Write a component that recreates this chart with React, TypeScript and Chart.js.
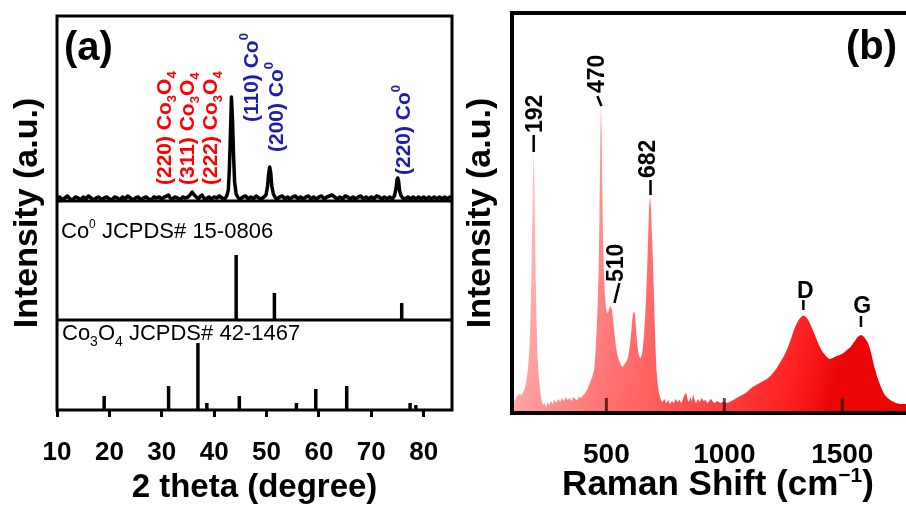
import React, { useEffect, useRef } from 'react';
import { Chart, registerables } from 'chart.js';
Chart.register(...registerables);

const FONT = "'Liberation Sans', Arial, Helvetica, sans-serif";

// ---------- (a) XRD ----------
const xrdAngle = [
  10, 10.5, 11, 11.5, 12, 12.5, 13, 13.5, 14, 14.5, 15, 15.5, 16, 16.5, 17, 17.5, 18, 18.5, 19, 19.5,
  20, 20.5, 21, 21.5, 22, 22.5, 23, 23.5, 24, 24.5, 25, 25.5, 26, 26.5, 27, 27.5, 28, 28.5, 29, 29.5,
  30, 30.5, 31, 31.3, 31.6, 32, 32.5, 33, 33.5, 34, 34.5, 35, 35.4, 35.8, 36.2, 36.6, 37, 37.4, 37.7, 38,
  38.5, 39, 39.5, 40, 40.5, 41, 41.5, 42, 42.4, 42.7, 42.9, 43.1, 43.3, 43.5, 43.7, 43.9, 44.2, 44.6, 45, 45.5,
  46, 46.5, 47, 47.5, 48, 48.5, 49, 49.5, 49.9, 50.2, 50.4, 50.6, 50.8, 51.0, 51.3, 51.7, 52, 52.5, 53, 53.5,
  54, 54.5, 55, 55.5, 56, 56.5, 57, 57.5, 58, 58.5, 59, 59.5, 60, 60.5, 61, 61.5, 62, 62.5, 63, 63.5,
  64, 64.5, 65, 65.5, 66, 66.5, 67, 67.5, 68, 68.5, 69, 69.5, 70, 70.5, 71, 71.5, 72, 72.5, 73, 73.5,
  74, 74.4, 74.7, 74.9, 75.05, 75.2, 75.4, 75.7, 76, 76.5, 77, 77.5, 78, 78.5, 79, 79.5, 80, 80.5, 81, 81.5,
  82, 82.5, 83, 83.5, 84, 84.5, 85, 85.4,
];
const xrdIntensity = [
  211, 213, 210, 212, 214, 211, 210, 213, 212, 210, 213, 211, 214, 212, 210, 212, 213, 210, 212, 213,
  211, 210, 213, 212, 210, 213, 211, 214, 212, 210, 212, 213, 210, 212, 213, 211, 210, 213, 212, 213,
  211, 213, 214, 215, 212, 211, 213, 212, 210, 213, 212, 213, 215, 218, 215, 213, 211, 214, 215, 212,
  211, 213, 211, 213, 212, 214, 212, 211, 214, 220, 240, 275, 313, 290, 255, 228, 216, 212, 211, 213,
  214, 211, 213, 211, 214, 212, 211, 213, 215, 224, 236, 243, 237, 224, 216, 212, 211, 213, 214, 211,
  213, 211, 213, 214, 211, 213, 211, 213, 214, 211, 213, 211, 213, 214, 211, 213, 214, 215, 213, 211,
  213, 211, 214, 213, 211, 213, 211, 213, 214, 211, 213, 211, 213, 211, 214, 213, 211, 213, 211, 213,
  211, 214, 221, 230, 232, 229, 219, 214, 212, 211, 213, 211, 213, 211, 213, 211, 213, 211, 213, 211,
  213, 211, 213, 211, 213, 211, 213, 212,
];
const co0RefAngle = [44.2, 51.5, 75.8];
const co0RefIntensity = [65, 27, 17];
const co3o4RefAngle = [19.0, 31.3, 36.9, 38.6, 44.8, 55.7, 59.4, 65.3, 77.4, 78.5];
const co3o4RefIntensity = [14, 24, 67, 7, 14, 7, 21, 24, 7, 5];
const xrdTicks = [10, 20, 30, 40, 50, 60, 70, 80];
const xrdMin = 10;
const xrdMax = 85.4;
const co0Level = 90;      // base of the Co0 reference panel
const traceLevel = 209;   // base of the measured pattern panel
const co3o4PeakLabels = ['(220)', '(311)', '(222)'];
const co3o4LabelAt = [[31.7, 225], [36.1, 225], [40.5, 225]];
const co0PeakLabels = ['(110)', '(200)', '(220)'];
const co0LabelAt = [[48.3, 288], [53.1, 258], [77.3, 235]];

// ---------- (b) Raman ----------
const ramanShift = [
  100, 110, 120, 130, 140, 150, 160, 168, 175, 180, 184, 188, 192, 195, 198, 201, 205, 209, 214, 220,
  226, 232, 238, 245, 252, 258, 265, 272, 280, 288, 296, 304, 312, 320, 328, 336, 344, 352, 360, 368,
  376, 384, 392, 400, 410, 420, 430, 440, 449, 455, 460, 464, 468, 471, 474, 477, 480, 483, 486, 490,
  494, 499, 505, 512, 518, 523, 529, 535, 541, 548, 555, 562, 568, 574, 580, 586, 592, 598, 603, 608,
  612, 616, 620, 624, 628, 633, 639, 645, 650, 655, 660, 665, 669, 673, 677, 681, 685, 689, 693, 697,
  701, 705, 709, 713, 718, 724, 730, 738, 746, 754, 762, 770, 778, 786, 794, 802, 810, 818, 826, 832,
  838, 844, 850, 856, 862, 868, 874, 880, 888, 896, 904, 912, 920, 928, 936, 944, 952, 960, 968, 976,
  984, 992, 1000, 1010, 1020, 1030, 1045, 1060, 1075, 1090, 1105, 1120, 1135, 1150, 1165, 1180, 1195, 1210, 1225, 1240,
  1255, 1270, 1285, 1300, 1315, 1330, 1340, 1350, 1362, 1375, 1389, 1403, 1417, 1431, 1445, 1460, 1475, 1490, 1505, 1520,
  1535, 1550, 1565, 1580, 1592, 1607, 1620, 1636, 1650, 1664, 1678, 1692, 1710, 1727, 1745, 1770,
];
const ramanIntensity = [
  8, 12, 16, 19, 18, 22, 30, 45, 70, 110, 160, 220, 260, 235, 180, 130, 85, 55, 35, 20,
  12, 8, 10, 6, 11, 8, 12, 9, 13, 10, 14, 11, 15, 12, 16, 13, 15, 12, 16, 14,
  13, 16, 15, 17, 20, 24, 30, 36, 45, 65, 90, 115, 150, 200, 260, 306, 280, 225, 175, 140,
  118, 104, 100, 104, 107, 104, 92, 78, 66, 57, 52, 48, 46, 48, 50, 52, 56, 64, 75, 88,
  98, 101, 100, 90, 78, 64, 57, 55, 58, 66, 80, 98, 120, 145, 175, 205, 216, 205, 180, 155,
  125, 90, 62, 42, 28, 19, 14, 11, 14, 10, 13, 9, 12, 10, 14, 11, 13, 10, 15, 18,
  20, 14, 11, 16, 12, 18, 13, 10, 14, 11, 15, 12, 13, 10, 12, 14, 11, 10, 12, 11,
  10, 11, 11, 10, 11, 12, 14, 16, 18, 20, 23, 26, 28, 30, 32, 34, 37, 41, 46, 52,
  58, 66, 76, 86, 93, 97, 97, 95, 90, 83, 75, 67, 61, 57, 54, 55, 57, 58, 60, 63,
  66, 71, 76, 78, 76, 71, 62, 46, 35, 26, 19, 15, 12, 10, 9, 9,
];
const ramanTicks = [500, 1000, 1500];
const ramanMin = 100;
const ramanMax = 1770;
// peak labels: text, text start (shift, intensity), dash from/to (shift, intensity)
const ramanPeakText = ['192', '470', '510', '682'];
const ramanTextAt = [[195, 280], [458, 320], [538, 131], [674, 235]];
const ramanDashFrom = [[192, 261], [479, 307], [534, 110], [687, 218]];
const ramanDashTo = [[192, 278], [462, 317], [555, 130], [687, 233]];
const bandText = ['D', 'G'];
const bandTextAt = [[1343, 115], [1584, 100]];
const bandTickFrom = [[1335, 103], [1579, 86]];
const bandTickTo = [[1335, 113], [1579, 97]];

type Seg = { t: string; s: number; dy?: number };

function drawRich(
  ctx: CanvasRenderingContext2D,
  segs: Seg[],
  x: number,
  y: number,
  color: string,
  weight: string,
  rot = 0,
  align: 'left' | 'center' = 'left'
) {
  ctx.save();
  ctx.translate(x, y);
  if (rot) ctx.rotate(rot);
  ctx.fillStyle = color;
  ctx.textBaseline = 'alphabetic';
  ctx.textAlign = 'left';
  const widths = segs.map((sg) => {
    ctx.font = `${weight} ${sg.s}px ${FONT}`;
    return ctx.measureText(sg.t).width;
  });
  const total = widths.reduce((a, b) => a + b, 0);
  let cx = align === 'center' ? -total / 2 : 0;
  segs.forEach((sg, i) => {
    ctx.font = `${weight} ${sg.s}px ${FONT}`;
    ctx.fillText(sg.t, cx, -(sg.dy || 0));
    cx += widths[i];
  });
  ctx.restore();
}

function sticks(angles: number[], heights: number[], base: number) {
  return angles.flatMap((a, i) => [
    { x: a, y: base },
    { x: a, y: base + heights[i] },
    { x: a, y: null as any },
  ]);
}

const ROT = -Math.PI / 2;

export default function App() {
  const refA = useRef<HTMLCanvasElement>(null);
  const refB = useRef<HTMLCanvasElement>(null);

  useEffect(() => {
    const blue = '#1e1ea8';
    const red = '#ff0000';
    const plugA = {
      id: 'decorA',
      afterDraw(chart: any) {
        const { ctx, chartArea: a, scales } = chart;
        const xs = scales.x;
        const ys = scales.y;
        ctx.save();
        ctx.strokeStyle = '#000';
        ctx.lineWidth = 3;
        ctx.strokeRect(a.left, a.top, a.right - a.left, a.bottom - a.top);
        ctx.restore();
        co3o4PeakLabels.forEach((t, i) => {
          const px = xs.getPixelForValue(co3o4LabelAt[i][0]);
          const py = ys.getPixelForValue(co3o4LabelAt[i][1]);
          drawRich(ctx, [
            { t: t + ' Co', s: 21 },
            { t: '3', s: 13, dy: -5 },
            { t: 'O', s: 21 },
            { t: '4', s: 13, dy: -5 },
          ], px, py, red, 'bold', ROT);
        });
        co0PeakLabels.forEach((t, i) => {
          const px = xs.getPixelForValue(co0LabelAt[i][0]);
          const py = ys.getPixelForValue(co0LabelAt[i][1]);
          drawRich(ctx, [
            { t: t + ' Co', s: 21 },
            { t: '0', s: 13, dy: 10 },
          ], px, py, blue, 'bold', ROT);
        });
        drawRich(ctx, [{ t: 'Co', s: 22 }, { t: '0', s: 12, dy: 10 }, { t: ' JCPDS# 15-0806', s: 22 }],
          a.left + 4, ys.getPixelForValue(co0Level + 82), '#000', 'normal');
        drawRich(ctx, [
          { t: 'Co', s: 22 }, { t: '3', s: 14, dy: -6 }, { t: 'O', s: 22 }, { t: '4', s: 14, dy: -6 },
          { t: ' JCPDS# 42-1467', s: 22 },
        ], a.left + 5, ys.getPixelForValue(co0Level - 20), '#000', 'normal');
        drawRich(ctx, [{ t: '(a)', s: 40 }], a.left + 7, a.top + 44, '#000', 'bold');
        drawRich(ctx, [{ t: 'Intensity (a.u.)', s: 34 }], 37, (a.top + a.bottom) / 2, '#000', 'bold', ROT, 'center');
        drawRich(ctx, [{ t: '2 theta (degree)', s: 33 }], (a.left + a.right) / 2, 497, '#000', 'bold', 0, 'center');
      },
    };

    const chartA = new Chart(refA.current!, {
      type: 'scatter',
      data: {
        datasets: [
          {
            data: [{ x: xrdMin, y: traceLevel }, { x: xrdMax, y: traceLevel }],
            showLine: true, borderColor: '#000', borderWidth: 3, pointRadius: 0,
          },
          {
            data: [{ x: xrdMin, y: co0Level }, { x: xrdMax, y: co0Level }],
            showLine: true, borderColor: '#000', borderWidth: 3, pointRadius: 0,
          },
          {
            data: xrdAngle.map((x, i) => ({ x, y: xrdIntensity[i] })),
            showLine: true, borderColor: '#000', borderWidth: 3.5, pointRadius: 0, borderJoinStyle: 'round',
          },
          {
            data: sticks(co0RefAngle, co0RefIntensity, co0Level),
            showLine: true, borderColor: '#000', borderWidth: 3.5, pointRadius: 0, spanGaps: false, borderCapStyle: 'butt',
          },
          {
            data: sticks(co3o4RefAngle, co3o4RefIntensity, 0),
            showLine: true, borderColor: '#000', borderWidth: 3.5, pointRadius: 0, spanGaps: false, borderCapStyle: 'butt',
          },
        ] as any,
      },
      options: {
        animation: false,
        responsive: false,
        maintainAspectRatio: false,
        layout: { padding: { left: 57, top: 16, right: 18, bottom: 0 } },
        plugins: { legend: { display: false }, tooltip: { enabled: false } },
        scales: {
          x: {
            type: 'linear',
            min: xrdMin,
            max: xrdMax,
            afterBuildTicks: (s: any) => { s.ticks = xrdTicks.map((v) => ({ value: v })); },
            afterFit: (s: any) => { s.height = 96; },
            grid: { display: true, drawOnChartArea: false, drawTicks: true, tickLength: 7, tickWidth: 3, tickColor: '#000' },
            border: { display: false },
            ticks: {
              color: '#000', font: { family: FONT, size: 26, weight: 'bold' }, padding: 20, maxRotation: 0, autoSkip: false,
              callback: (v: any) => String(v),
            },
          },
          y: { display: false, min: 0, max: 394 },
        },
      } as any,
      plugins: [plugA],
    });

    const plugB = {
      id: 'decorB',
      afterDatasetsDraw(chart: any) {
        const { ctx, chartArea: a, scales } = chart;
        const xs = scales.x;
        ctx.save();
        ctx.strokeStyle = 'rgba(40,0,0,0.7)';
        ctx.lineWidth = 3;
        ramanTicks.forEach((v) => {
          const px = xs.getPixelForValue(v);
          ctx.beginPath();
          ctx.moveTo(px, a.bottom);
          ctx.lineTo(px, a.bottom - 15);
          ctx.stroke();
        });
        ctx.strokeStyle = '#000';
        ctx.lineWidth = 4;
        ctx.beginPath();
        ctx.moveTo(a.right + 5, a.top);
        ctx.lineTo(a.left, a.top);
        ctx.lineTo(a.left, a.bottom);
        ctx.lineTo(a.right + 5, a.bottom);
        ctx.stroke();
        ctx.restore();
      },
      afterDraw(chart: any) {
        const { ctx, chartArea: a, scales } = chart;
        const xs = scales.x;
        const ys = scales.y;
        ctx.save();
        ctx.strokeStyle = '#000';
        ctx.lineWidth = 2.5;
        ramanPeakText.forEach((t, i) => {
          ctx.beginPath();
          ctx.moveTo(xs.getPixelForValue(ramanDashFrom[i][0]), ys.getPixelForValue(ramanDashFrom[i][1]));
          ctx.lineTo(xs.getPixelForValue(ramanDashTo[i][0]), ys.getPixelForValue(ramanDashTo[i][1]));
          ctx.stroke();
        });
        bandText.forEach((t, i) => {
          ctx.beginPath();
          ctx.moveTo(xs.getPixelForValue(bandTickFrom[i][0]), ys.getPixelForValue(bandTickFrom[i][1]));
          ctx.lineTo(xs.getPixelForValue(bandTickTo[i][0]), ys.getPixelForValue(bandTickTo[i][1]));
          ctx.stroke();
        });
        ctx.restore();
        ramanPeakText.forEach((t, i) => {
          const px = xs.getPixelForValue(ramanTextAt[i][0]) + 8;
          const py = ys.getPixelForValue(ramanTextAt[i][1]);
          drawRich(ctx, [{ t, s: 23 }], px, py, '#000', 'bold', ROT);
        });
        bandText.forEach((t, i) => {
          drawRich(ctx, [{ t, s: 23 }], xs.getPixelForValue(bandTextAt[i][0]), ys.getPixelForValue(bandTextAt[i][1]), '#000', 'bold', 0, 'center');
        });
        drawRich(ctx, [{ t: '(b)', s: 40 }], a.right - 60, a.top + 46, '#000', 'bold');
        drawRich(ctx, [{ t: 'Intensity (a.u.)', s: 34 }], 30, (a.top + a.bottom) / 2, '#000', 'bold', ROT, 'center');
        drawRich(ctx, [{ t: 'Raman Shift (cm', s: 35 }, { t: '\u22121', s: 21, dy: 13 }, { t: ')', s: 35 }], 258, 495, '#000', 'bold', 0, 'center');
      },
    };

    const chartB = new Chart(refB.current!, {
      type: 'line',
      data: {
        datasets: [
          {
            data: ramanShift.map((x, i) => ({ x, y: ramanIntensity[i] })),
            fill: 'origin',
            borderWidth: 0,
            borderColor: 'rgba(0,0,0,0)',
            pointRadius: 0,
            tension: 0.2,
            backgroundColor: (c: any) => {
              const ch = c.chart;
              const a = ch.chartArea;
              if (!a) return '#ff8080';
              const g = ch.ctx.createLinearGradient(a.left, a.top, a.right, a.top + 100);
              g.addColorStop(0, 'rgb(255,215,215)');
              g.addColorStop(0.15, 'rgb(255,190,190)');
              g.addColorStop(0.3, 'rgb(255,150,150)');
              g.addColorStop(0.45, 'rgb(255,115,115)');
              g.addColorStop(0.7, 'rgb(255,70,70)');
              g.addColorStop(0.88, 'rgb(255,35,35)');
              g.addColorStop(1, 'rgb(235,5,5)');
              return g;
            },
          },
        ] as any,
      },
      options: {
        animation: false,
        responsive: false,
        maintainAspectRatio: false,
        layout: { padding: { left: 52, top: 13, right: 0, bottom: 0 } },
        plugins: { legend: { display: false }, tooltip: { enabled: false } },
        scales: {
          x: {
            type: 'linear',
            min: ramanMin,
            max: ramanMax,
            afterBuildTicks: (s: any) => { s.ticks = ramanTicks.map((v) => ({ value: v })); },
            afterFit: (s: any) => { s.height = 93; },
            grid: { display: false, drawTicks: false },
            border: { display: false },
            ticks: {
              color: '#000', font: { family: FONT, size: 28, weight: 'bold' }, padding: 25, maxRotation: 0, autoSkip: false,
              callback: (v: any) => String(v),
            },
          },
          y: { display: false, min: 0, max: 400 },
        },
      } as any,
      plugins: [plugB],
    });

    return () => {
      chartA.destroy();
      chartB.destroy();
    };
  }, []);

  return (
    <div style={{ position: 'fixed', left: 0, top: 0, width: 906, height: 506, background: '#fff', overflow: 'hidden' }}>
      <canvas ref={refA} width={470} height={506} style={{ position: 'absolute', left: 0, top: 0, width: 470, height: 506 }} />
      <canvas ref={refB} width={446} height={506} style={{ position: 'absolute', left: 460, top: 0, width: 446, height: 506 }} />
    </div>
  );
}
